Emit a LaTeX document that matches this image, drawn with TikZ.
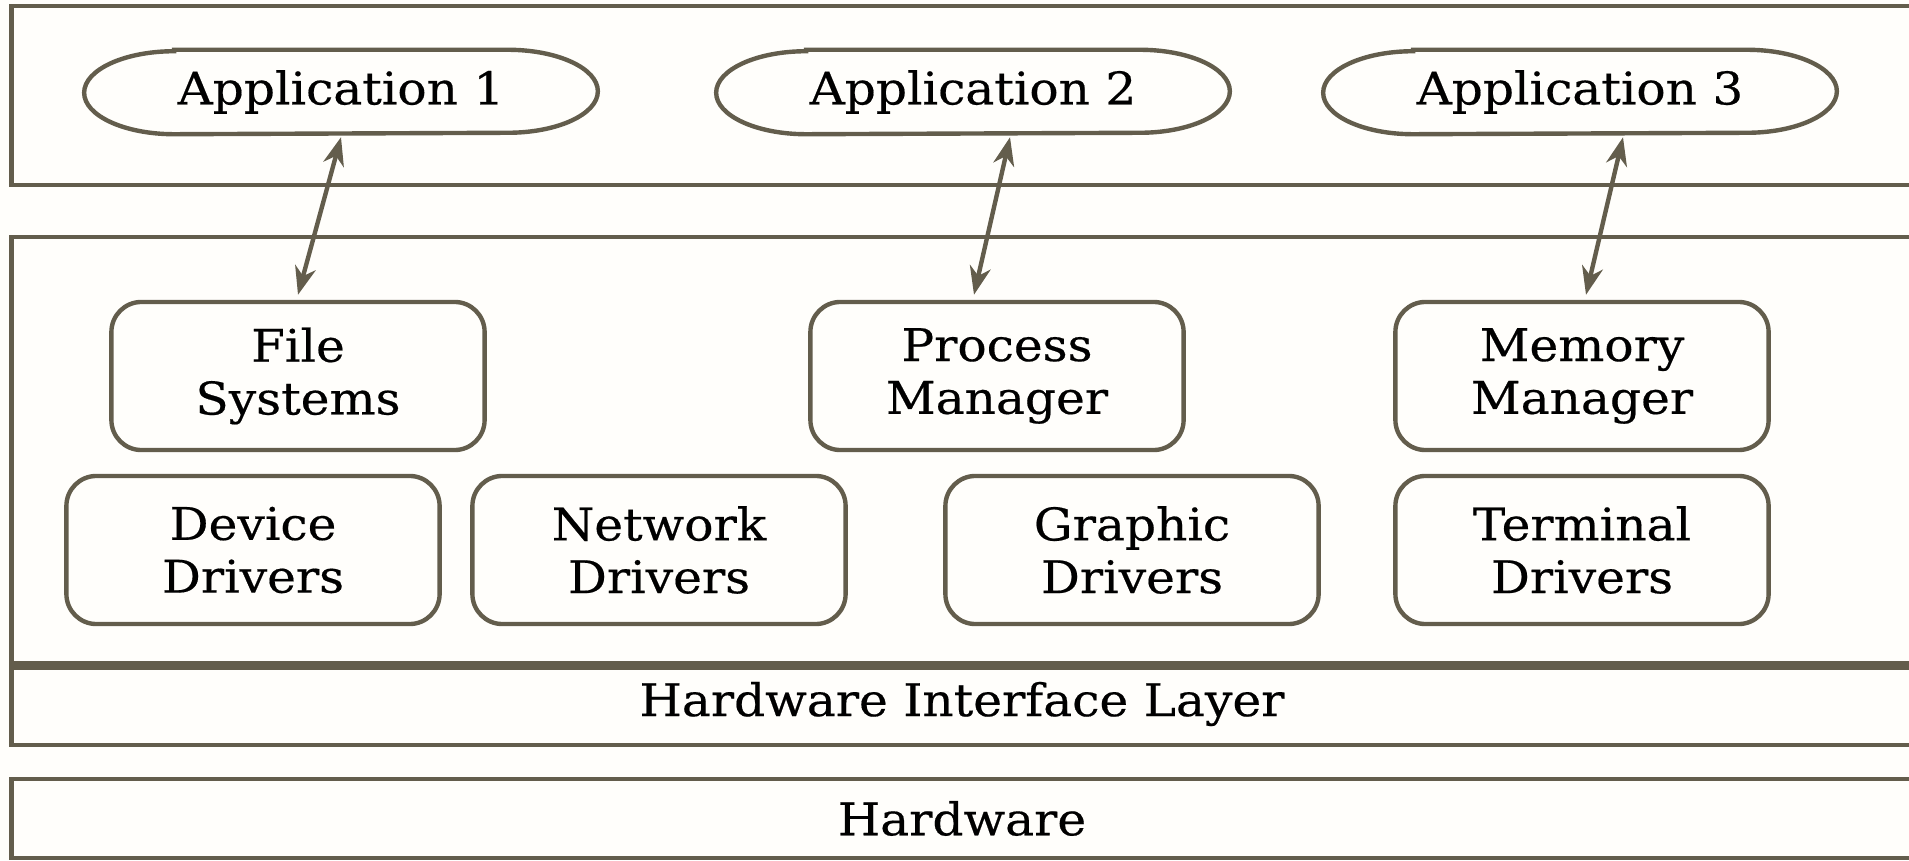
\documentclass[tikz,border=0pt]{standalone}
\usepackage{fontspec}
\setmainfont{DejaVu Serif}[FakeStretch=1.08,FakeBold=0.4]
\usetikzlibrary{arrows.meta,calc}
\definecolor{edge}{HTML}{635D4C}
\definecolor{paper}{HTML}{FFFEFB}
% outline of an application node: straight top and bottom, elliptic ends
\newcommand\appoutline[1]{%
  \draw[appedge] ($(#1.north west)+(90,0)$) -- ($(#1.north east)+(-90,0)$)
    arc[start angle=90,end angle=-90,x radius=90,y radius=41.5]
    -- ($(#1.south west)+(90,0)$)
    arc[start angle=270,end angle=90,x radius=90,y radius=41.5] -- cycle;}
\begin{document}
\begin{tikzpicture}[x=0.01cm,y=0.01cm,
  font=\fontsize{12.8}{15}\selectfont,
  layer/.style={draw=edge,line width=1.35pt,inner sep=0pt},
  unit/.style={draw=edge,line width=1.25pt,rounded corners=0.3cm,
    minimum width=3.73cm,minimum height=1.48cm,align=center,inner sep=0pt},
  app/.style={minimum width=5.12cm,minimum height=0.83cm,inner sep=0pt},
  appedge/.style={draw=edge,line width=1.25pt},
  link/.style={draw=edge,line width=1.25pt,
    {Stealth[length=8pt,width=6pt,inset=2.5pt]}-{Stealth[length=8pt,width=6pt,inset=2.5pt]}}]
\fill[paper] (0,0) rectangle (1909,860);
\useasboundingbox (0,0) rectangle (1909,860);

% layers (they run on past the right edge of the page)
\node[layer,minimum width=19.10cm,minimum height=1.79cm] (applayer) at (967,764.5) {};
\node[layer,minimum width=19.10cm,minimum height=4.26cm] (kernel) at (967,410) {};
\node[layer,minimum width=19.10cm,minimum height=0.82cm] (hil) at (967,156) {};
\node[layer,minimum width=19.10cm,minimum height=0.79cm] (hw) at (967,41.5) {};
\draw[edge,line width=2.4pt] (kernel.south west) -- (kernel.south east);
\node (hiltext) at (962,156) {Hardware Interface Layer};
\node (hwtext) at (962,41.5) {Hardware};

% applications
\node[app] (a1) at (341,768) {Application 1};
\node[app] (a2) at (973,768) {Application 2};
\node[app] (a3) at (1580,768) {Application 3};
\appoutline{a1}
\appoutline{a2}
\appoutline{a3}

% kernel components
\node[unit] (fs) at (298,484) {File\\Systems};
\node[unit] (pm) at (997,484) {Process\\Manager};
\node[unit] (mm) at (1582,484) {Memory\\Manager};
\node[unit] (dd) at (253,310) {Device\\Drivers};
\node[unit] (nd) at (659,310) {Network\\Drivers};
\node[unit] (gd) at (1132,310) {Graphic\\Drivers};
\node[unit] (td) at (1582,310) {Terminal\\Drivers};

% application to kernel links
\draw[link] ($(a1.south)+(0,-3)$) -- ($(fs.north)+(0,5)$);
\draw[link] ($(a2.south)+(37,-3)$) -- ($(pm.north)+(-23,5)$);
\draw[link] ($(a3.south)+(43,-3)$) -- ($(mm.north)+(4,5)$);
\end{tikzpicture}
\end{document}
